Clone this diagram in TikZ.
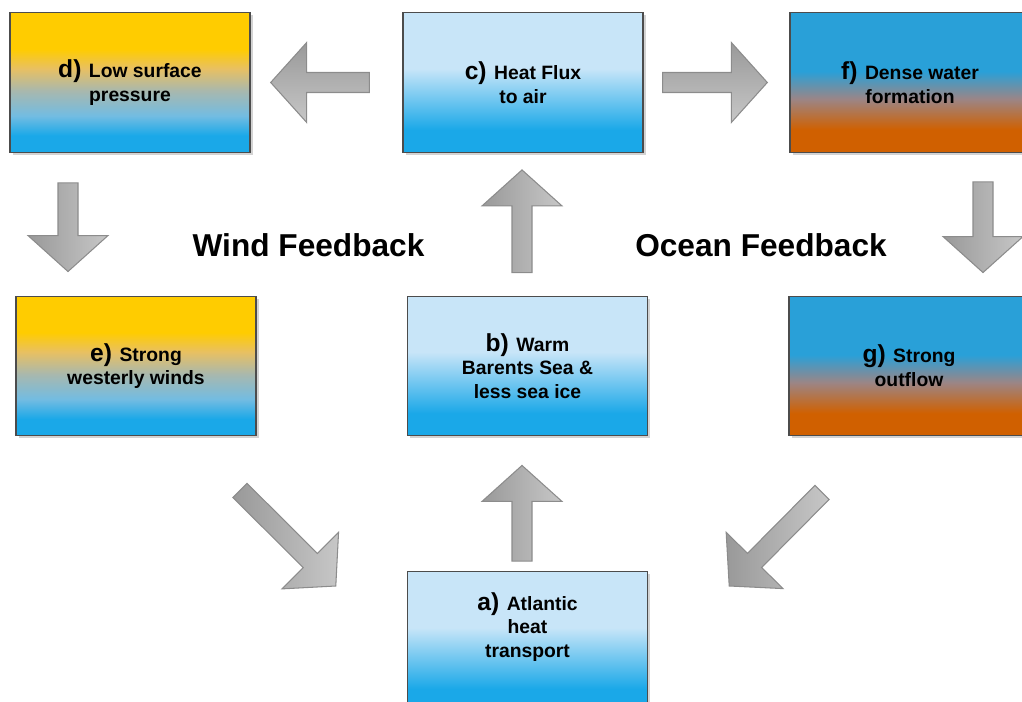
\documentclass[tikz,border=0pt]{standalone}
\usepackage{fontspec}
\setmainfont{Liberation Sans}
\usetikzlibrary{calc,shadows}

\definecolor{jaune}{HTML}{FFCC00}
\definecolor{sable}{HTML}{E8C062}
\definecolor{grisvert}{HTML}{A8B8AE}
\definecolor{bleumoyen}{HTML}{72BCE2}
\definecolor{bleu}{HTML}{1AA8E8}
\definecolor{bleuclair}{HTML}{C8E5F8}
\definecolor{bleuocean}{HTML}{29A0D8}
\definecolor{rouille}{HTML}{D06000}
\definecolor{mauve}{HTML}{9C8585}

\pgfdeclareverticalshading{vent}{100bp}{color(0bp)=(bleu); color(31bp)=(bleu); color(38bp)=(bleumoyen); color(47bp)=(grisvert); color(55bp)=(sable); color(62bp)=(jaune); color(100bp)=(jaune)}
\pgfdeclareverticalshading{chaleur}{100bp}{color(0bp)=(bleu); color(33bp)=(bleu); color(55bp)=(bleuclair); color(100bp)=(bleuclair)}
\pgfdeclareverticalshading{ocean}{100bp}{color(0bp)=(rouille); color(33bp)=(rouille); color(44bp)=(mauve); color(54bp)=(bleuocean); color(100bp)=(bleuocean)}

\tikzset{
	texte/.style={align=center, font=\fontsize{11}{13.5}\selectfont\bfseries},
	boite/.style={texte, draw=black!70, line width=0.8pt, minimum width=4.8cm, minimum height=2.79cm,
		drop shadow={shadow xshift=0.05cm, shadow yshift=-0.05cm, opacity=0.35}},
	boitevent/.style={boite, shade, shading=vent},
	boitechaleur/.style={boite, shade, shading=chaleur},
	boiteocean/.style={boite, shade, shading=ocean},
	bloc/.style={draw=black!45, line width=0.6pt, left color=black!40, right color=black!22},
	hori/.style={top color=black!40, bottom color=black!22},
	titre/.style={font=\fontsize{18}{18}\selectfont\bfseries}
}

\newcommand{\etiq}[1]{{\fontsize{14}{14}\selectfont #1}\hspace{0.15cm}}
\newcommand{\fleche}[3][]{%
	\coordinate (q) at (#2);
	\coordinate (p) at (#3);
	\coordinate (h) at ($(p)!0.72cm!(q)$);
	\draw[bloc,#1] ($(q)!0.2cm!90:(p)$) -- ($(h)!0.2cm!90:(p)$) -- ($(h)!0.8cm!90:(p)$) -- (p)
		-- ($(h)!0.8cm!-90:(p)$) -- ($(h)!0.2cm!-90:(p)$) -- ($(q)!0.2cm!-90:(p)$) -- cycle;
}

\begin{document}
\begin{tikzpicture}
	\useasboundingbox (0,0) rectangle (20.44,14.04);
	% Boîtes
	\node[boitevent] (d) at (2.6,12.39) {\etiq{d)}Low surface\\pressure};
	\node[boitechaleur] (c) at (10.46,12.39) {\etiq{c)}Heat Flux\\to air};
	\node[boiteocean] (f) at (18.2,12.39) {\etiq{f)}Dense water\\formation};
	\node[boitevent] (e) at (2.72,6.72) {\etiq{e)}Strong\\westerly winds};
	\node[boitechaleur] (b) at (10.55,6.72) {\etiq{b)}Warm\\Barents Sea \&\\less sea ice};
	\node[boiteocean] (g) at (18.18,6.72) {\etiq{g)}Strong\\outflow};
	\node[boitechaleur] (a) at (10.55,1.21) {};
	\node[texte] (a-texte) at ($(a.center)+(0,0.29)$) {\etiq{a)}Atlantic\\heat\\transport};
	% Flèches
	\fleche[hori]{$(c.west)+(-0.66,0)$}{$(d.east)+(0.4,0)$}
	\fleche[hori]{$(c.east)+(0.38,0)$}{$(f.west)+(-0.44,0)$}
	\fleche{$(d.south)+(-1.24,-0.6)$}{$(e.north)+(-1.36,0.48)$}
	\fleche{$(f.south)+(1.46,-0.58)$}{$(g.north)+(1.48,0.46)$}
	\fleche{$(b.north)+(-0.11,0.46)$}{$(c.south)+(-0.02,-0.34)$}
	\fleche{$(a.north)+(-0.11,0.2)$}{$(b.south)+(-0.11,-0.58)$}
	\fleche{$(e.south)+(2.08,-1.08)$}{$(a.west)+(-1.42,1.11)$}
	\fleche{$(g.south)+(-1.74,-1.12)$}{$(a.east)+(1.62,1.11)$}
	% Légendes
	\node[titre] (vent) at (6.17,9.14) {Wind Feedback};
	\node[titre] (ocean) at (15.22,9.14) {Ocean Feedback};
\end{tikzpicture}
\end{document}
